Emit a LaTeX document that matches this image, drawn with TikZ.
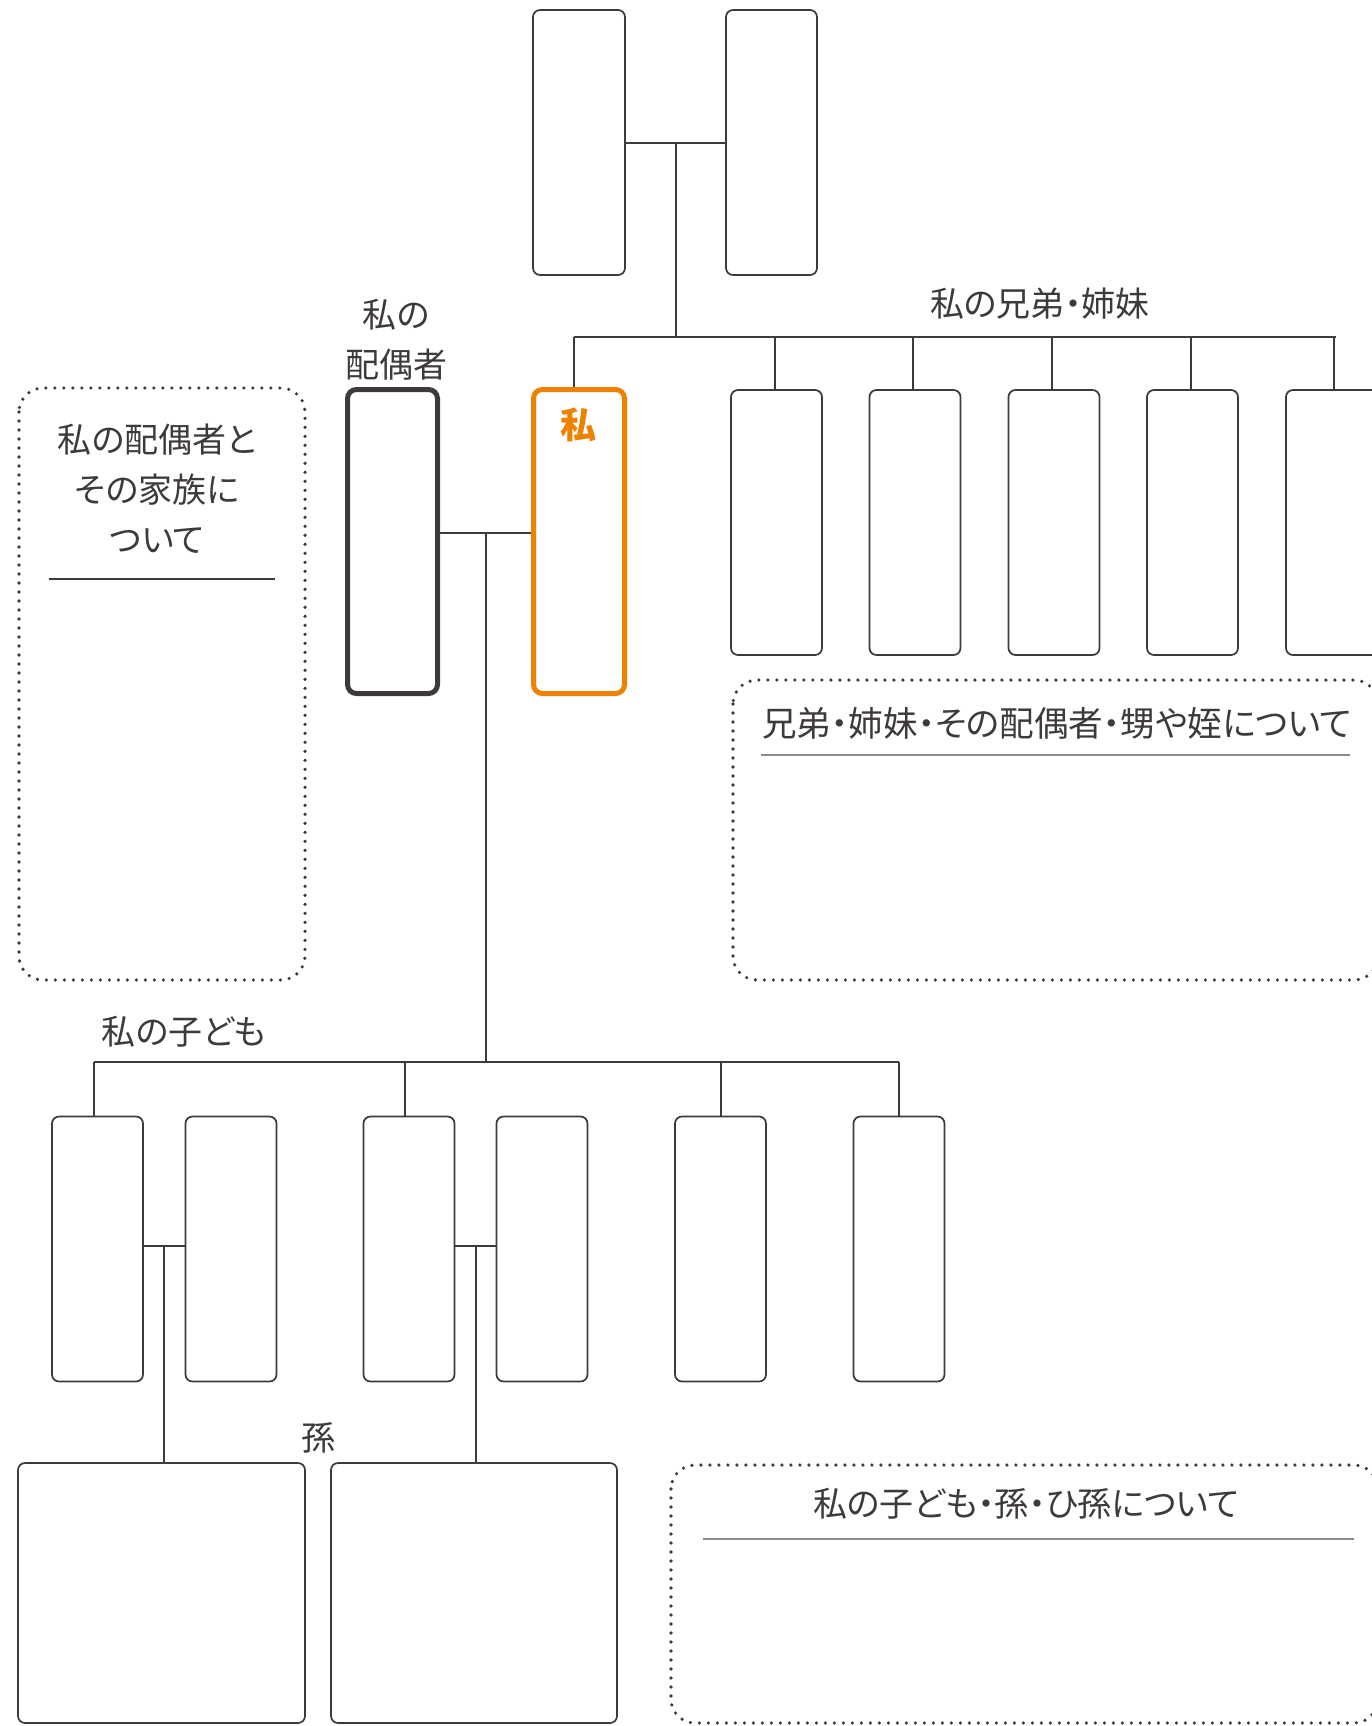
\documentclass[tikz,border=0pt]{standalone}
\usepackage{fontspec}
\setmainfont{Noto Sans CJK JP}[RawFeature=+palt]
\definecolor{ink}{HTML}{3E3A39}
\definecolor{orng}{HTML}{EE8200}
\definecolor{rulegray}{HTML}{8A8A8A}
\begin{document}
\begin{tikzpicture}[x=0.5pt,y=-0.5pt,
  box/.style={draw=ink, line width=0.85pt, rounded corners=3.5pt, inner sep=0pt, fill=white, minimum width=45.5pt, minimum height=132.5pt},
  thickbox/.style={box, line width=2.5pt, rounded corners=4.5pt, minimum height=152pt},
  link/.style={draw=ink, line width=1pt},
  dotbox/.style={draw=ink, line width=1.8pt, line cap=round, dash pattern=on 0pt off 4.5pt, rounded corners=12pt},
  rulel/.style={draw=rulegray, line width=0.75pt},
  lbl/.style={text=ink, font=\fontsize{17pt}{25pt}\selectfont, inner sep=0pt, align=center}
]
\useasboundingbox (0,0) rectangle (1372,1726);

% dotted note areas
\draw[dotbox] (19,388) rectangle (305,980);
\draw[dotbox] (733,680) rectangle (1378,980);
\draw[dotbox] (671,1465) rectangle (1378,1723);

\node[lbl] (noteA) at (157,489) {私の配偶者と\\その家族に\\ついて};
\draw[rulel, draw=ink] (49,579) -- (275,579);
\node[lbl, font=\fontsize{17.3pt}{25pt}\selectfont] (noteB) at (1057,723) {兄弟・姉妹・その配偶者・甥や姪について};
\draw[rulel] (761,755) -- (1350,755);
\node[lbl] (noteC) at (1026,1504) {私の子ども・孫・ひ孫について};
\draw[rulel] (703,1539) -- (1354,1539);

% parents
\node[box, minimum width=46pt] (pL) at (579,142.5) {};
\node[box, minimum width=45.5pt] (pR) at (771.5,142.5) {};
\draw[link] (pL.east) -- coordinate[pos=0.5] (pmid) (pR.west);

% me and spouse
\node[thickbox, draw=orng, minimum width=45.5pt] (me) at (579,541.5) {};
\node[text=orng, font=\fontsize{18pt}{20pt}\selectfont\bfseries, inner sep=0pt] (meLbl) at (578,425) {私};
\node[thickbox, minimum width=45pt] (sp) at (392.5,541.5) {};
\node[lbl] (spLbl) at (396,340) {私の\\配偶者};

% siblings
\node[box] (s1) at (776.5,522.5) {};
\node[box] (s2) at (915,522.5) {};
\node[box] (s3) at (1054,522.5) {};
\node[box] (s4) at (1192.5,522.5) {};
\node[box, minimum width=50pt] (s5) at (1336,522.5) {};
\node[lbl] (sibLbl) at (1040,304) {私の兄弟・姉妹};

\coordinate (sbL) at (574,336.5);
\coordinate (sbR) at (1336,336.5);
\draw[link] (sbL) -- (sbR);
\draw[link] (pmid) -- (pmid |- sbL);
\draw[link] (sbL) -- (sbL |- me.north);
\foreach \s in {s1,s2,s3,s4,s5} \draw[link] ([xshift=-1pt]\s.north |- sbL) -- ([xshift=-1pt]\s.north);

% couple line and children
\draw[link] ([yshift=4.25pt]sp.east) -- coordinate[pos=0.5] (cmid) ([yshift=4.25pt]me.west);
\node[box] (c1) at (97.5,1249) {};
\node[box] (c2) at (231,1249) {};
\node[box] (c3) at (409,1249) {};
\node[box] (c4) at (542,1249) {};
\node[box] (c5) at (720.5,1249) {};
\node[box] (c6) at (899,1249) {};
\node[lbl] (kidLbl) at (184,1032) {私の子ども};

\coordinate (cbL) at (94,1062);
\coordinate (cbR) at (899,1062);
\draw[link] (cbL) -- (cbR);
\draw[link] (cmid) -- (cmid |- cbL);
\draw[link] (cbL) -- (cbL |- c1.north);
\draw[link] ([xshift=-2pt]c3.north |- cbL) -- ([xshift=-2pt]c3.north);
\foreach \c in {c5,c6} \draw[link] (\c.north |- cbL) -- (\c.north);

% grandchildren
\node[box, minimum width=143.5pt, minimum height=130pt] (g1) at (161.5,1593) {};
\node[box, minimum width=143pt, minimum height=130pt] (g2) at (474,1593) {};
\node[lbl] (gLbl) at (318,1438) {孫};
\draw[link] ([yshift=1.5pt]c1.east) -- coordinate[pos=0.5] (m1) ([yshift=1.5pt]c2.west);
\draw[link] ([yshift=1.5pt]c3.east) -- coordinate[pos=0.5] (m2) ([yshift=1.5pt]c4.west);
\draw[link] (m1) -- (m1 |- g1.north);
\draw[link] (m2) -- (m2 |- g2.north);
\end{tikzpicture}
\end{document}
